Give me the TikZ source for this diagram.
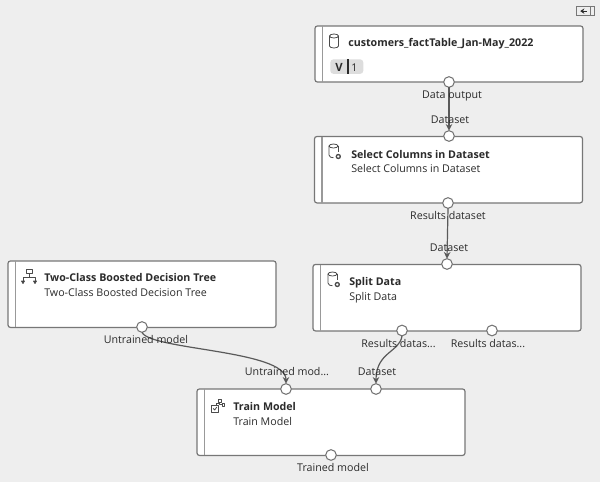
\documentclass[tikz,border=0pt]{standalone}
\usepackage{fontspec}
\setmainfont{Open Sans}
\usetikzlibrary{arrows.meta}
\definecolor{bgc}{HTML}{EEEEEE}
\definecolor{edgec}{HTML}{777777}
\definecolor{linkc}{HTML}{5A5A5A}
\definecolor{textc}{HTML}{2B2B2B}
\definecolor{badgec}{HTML}{DDDDDD}
\tikzset{
  x=0.75pt,y=-0.75pt,
  modbox/.style={draw=edgec,fill=white,line width=0.9pt,rounded corners=1.8pt,minimum width=201pt,minimum height=49.8pt,anchor=north west,inner sep=0pt,outer sep=0pt},
  databox/.style={modbox,minimum height=42pt},
  strip/.style={draw=gray!80,line width=0.8pt},
  port/.style={circle,draw=edgec,fill=white,line width=0.8pt,minimum size=8pt,inner sep=0pt,outer sep=0pt},
  lbl/.style={font=\fontsize{8pt}{9.6pt}\selectfont,text=textc,inner sep=0pt,text height=8.8pt,text depth=1.7pt},
  ttl/.style={font=\fontsize{8pt}{9.6pt}\selectfont\bfseries,text=textc,anchor=west,inner sep=0pt,text height=8.8pt,text depth=1.7pt},
  sub/.style={font=\fontsize{8pt}{9.6pt}\selectfont,text=textc,anchor=west,inner sep=0pt,text height=8.8pt,text depth=1.7pt},
  link/.style={draw=linkc,line width=0.9pt,-{Stealth[length=5pt,width=5pt]}},
  ico/.style={draw=textc!85,line width=0.6pt,line join=round},
  pics/cyl/.style={code={
    \draw[ico] (-4.5,-5) arc[start angle=180,end angle=540,x radius=4.5,y radius=2];
    \draw[ico] (-4.5,-5) -- (-4.5,5) arc[start angle=180,end angle=360,x radius=4.5,y radius=-2] -- (4.5,-5);
  }},
  pics/cylgear/.style={code={
    \draw[ico] (-4.5,-5) arc[start angle=180,end angle=540,x radius=4.5,y radius=2];
    \draw[ico] (-4.5,-5) -- (-4.5,4) .. controls (-4.5,6) and (-2,6.8) .. (0,6.8);
    \draw[ico] (4.5,-5) -- (4.5,0.5);
    \draw[ico,line width=1pt] (4.8,5.5) circle[radius=2];
  }},
  pics/treeico/.style={code={
    \draw[ico] (-3,-7) rectangle (3,-3);
    \draw[ico] (0,-3) -- (0,1) (-6,5) -- (-6,1) -- (6,1) -- (6,5);
    \draw[ico,fill=textc] (-7.5,4.5) -- (-4.5,4.5) -- (-6,7) -- cycle;
    \draw[ico,fill=textc] (4.5,4.5) -- (7.5,4.5) -- (6,7) -- cycle;
  }},
  pics/trainico/.style={code={
    \draw[ico] (-6.5,-1) rectangle (0,6);
    \draw[ico] (-4.8,2.5) -- (-3.3,4) -- (-1.2,1);
    \draw[ico] (0,-7) rectangle (3,-4);
    \draw[ico] (4,-2.5) rectangle (6.5,0);
    \draw[ico] (1.5,-4) -- (1.5,-1.2) -- (4,-1.2) (-2,-1) -- (-2,-2.5) -- (1.5,-2.5);
  }},
}
\begin{document}
\begin{tikzpicture}
\useasboundingbox[fill=bgc] (0,0) rectangle (600,482);
% collapse toggle
\node[draw=edgec,line width=0.7pt,minimum width=13.2pt,minimum height=7pt,inner sep=0pt,anchor=north west] (toggle) at (576,6) {};
\draw[edgec,line width=0.7pt] ([xshift=-3pt]toggle.north east) -- ([xshift=-3pt]toggle.south east);
\coordinate (tipa) at ([xshift=3.2pt]toggle.west);
\coordinate (tipb) at ([xshift=8.2pt]toggle.west);
\draw[textc,line width=0.8pt,-{Stealth[length=3pt,width=4pt]}] (tipb) -- (tipa);
% boxes
\node[databox] (cust) at (315,26) {};
\node[modbox] (sel) at (314.5,136.5) {};
\node[modbox] (split) at (313,264.5) {};
\node[modbox] (tree) at (8,261) {};
\node[modbox] (train) at (197,389) {};
\foreach \b in {cust,sel,split,tree,train}
  \draw[strip] ([xshift=5.6pt]\b.north west) -- ([xshift=5.6pt]\b.south west);
% icons
\pic at (334,41) {cyl};
\pic at (333.5,151) {cylgear};
\pic at (332.5,279) {cylgear};
\pic at (29,276.5) {treeico};
\pic at (218,406) {trainico};
% titles
\node[ttl] (custT) at (348,42) {customers\_factTable\_Jan-May\_2022};
\node[ttl] (selT) at (351,154) {Select Columns in Dataset};
\node[sub] (selS) at (351,168) {Select Columns in Dataset};
\node[ttl] (splitT) at (349,281) {Split Data};
\node[sub] (splitS) at (349,295.5) {Split Data};
\node[ttl] (treeT) at (44,277) {Two-Class Boosted Decision Tree};
\node[sub] (treeS) at (44,292) {Two-Class Boosted Decision Tree};
\node[ttl] (trainT) at (233,406) {Train Model};
\node[sub] (trainS) at (233,420.5) {Train Model};
% version badge
\node[fill=badgec,rounded corners=2.5pt,minimum width=24.8pt,minimum height=11pt,inner sep=0pt,anchor=north west] (badge) at (330,59) {};
\node[lbl,font=\fontsize{8.5pt}{10pt}\selectfont\bfseries] (vlet) at (339,66.5) {V};
\node[lbl] (vnum) at (354.5,66.5) {1};
\draw[textc,line width=0.8pt] ([xshift=13.5pt]badge.north west) -- ([xshift=13.5pt]badge.south west);
% ports
\node[port] (p1) at (449,82) {};
\node[port] (p2) at (449,136) {};
\node[port] (p3) at (448,203) {};
\node[port] (p4) at (447,264) {};
\node[port] (p5) at (402,330.5) {};
\node[port] (p6) at (492,330.5) {};
\node[port] (p7) at (142,327) {};
\node[port] (p8) at (286,389) {};
\node[port] (p9) at (376,389) {};
\node[port] (p10) at (331,455) {};
% connectors
\draw[link] (p1.south) -- (p2.north);
\draw[link] (p3.south) -- (p4.north);
\draw[link] (p7.south) .. controls (150,350) and (286,350) .. (p8.north);
\draw[link] (p5.south) .. controls (400,352) and (376,352) .. (p9.north);
% port labels
\node[lbl] (l1) at (452,94) {Data output};
\node[lbl] (l2) at (450,119) {Dataset};
\node[lbl] (l3) at (448,215) {Results dataset};
\node[lbl] (l4) at (449,247) {Dataset};
\node[lbl] (l5) at (398.5,342.5) {Results datas...};
\node[lbl] (l6) at (488,342.5) {Results datas...};
\node[lbl] (l7) at (146,339) {Untrained model};
\node[lbl] (l8) at (287,371) {Untrained mod...};
\node[lbl] (l9) at (377,371) {Dataset};
\node[lbl] (l10) at (333,467) {Trained model};
\end{tikzpicture}
\end{document}
